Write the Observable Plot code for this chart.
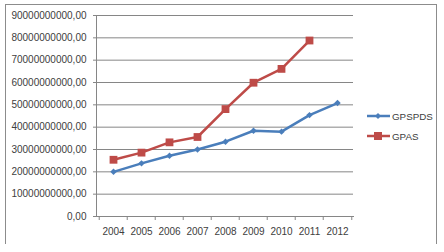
<!DOCTYPE html>
<html>
<head>
<meta charset="utf-8">
<script src="https://cdn.jsdelivr.net/npm/d3@7"></script>
<script src="https://cdn.jsdelivr.net/npm/@observablehq/plot@0.6"></script>
<style>
  body { margin: 0; background: #fff; }
  #wrap { position: relative; width: 444px; height: 252px; font-family: "Liberation Sans", Arial, sans-serif; }
  #border { position: absolute; left: 5px; top: 4px; width: 432px; height: 240px; border: 1px solid #8c8c8c; border-bottom: none; box-sizing: border-box; pointer-events: none; }
  #legend { position: absolute; left: 367px; top: 106px; font-size: 9.8px; color: #404040; }
  .item { display: flex; align-items: center; height: 20px; }
  .item svg { margin-right: 2px; }
</style>
</head>
<body>
<div id="wrap">
  <div id="chart"></div>
  <div id="border"></div>
  <div id="legend"></div>
</div>
<script>
const years = ["2004","2005","2006","2007","2008","2009","2010","2011","2012"];
const gpspds = [2.0e10, 2.38e10, 2.72e10, 3.0e10, 3.35e10, 3.84e10, 3.80e10, 4.54e10, 5.08e10];
const gpasYears = ["2004","2005","2006","2007","2008","2009","2010","2011"];
const gpas = [2.54e10, 2.86e10, 3.32e10, 3.56e10, 4.81e10, 5.99e10, 6.61e10, 7.88e10];
const yTicks = [0, 1e10, 2e10, 3e10, 4e10, 5e10, 6e10, 7e10, 8e10, 9e10];
const seriesNames = ["GPSPDS", "GPAS"];
const colors = ["#4a7ebb", "#be4b48"];

const blue = years.map((y, i) => ({year: y, value: gpspds[i]}));
const red = gpasYears.map((y, i) => ({year: y, value: gpas[i]}));

const W = 444, H = 252, mL = 96, mR = 91;
const half = (W - mL - mR) / years.length / 2;
const gridColor = "#868686";

const chart = Plot.plot({
  width: W, height: H,
  marginLeft: mL, marginRight: mR, marginTop: 15, marginBottom: 36,
  style: {fontFamily: "'Liberation Sans', Arial, sans-serif", fontSize: "10px", color: "#404040", background: "transparent"},
  x: {type: "point", domain: years, padding: 0.5, label: null},
  y: {domain: [0, 9e10], label: null},
  marks: [
    Plot.gridY(yTicks, {stroke: gridColor, strokeOpacity: 1}),
    Plot.frame({anchor: "left", stroke: gridColor}),
    Plot.frame({anchor: "bottom", stroke: gridColor}),
    Plot.axisY(yTicks, {tickSize: 3, tickPadding: 7, stroke: gridColor, tickFormat: d => d.toFixed(0) + ",00", fill: "#404040"}),
    Plot.axisX(years, {tickSize: 4, text: null, dx: -half, stroke: gridColor}),
    Plot.axisX([years[years.length - 1]], {tickSize: 4, text: null, dx: half, stroke: gridColor}),
    Plot.axisX(years, {tickSize: 0, tickPadding: 11, fill: "#404040"}),
    Plot.line(blue, {x: "year", y: "value", stroke: colors[0], strokeWidth: 2.5}),
    Plot.dot(blue, {x: "year", y: "value", symbol: "diamond2", r: 2.9, fill: colors[0], stroke: "none"}),
    Plot.line(red, {x: "year", y: "value", stroke: colors[1], strokeWidth: 2.5}),
    Plot.dot(red, {x: "year", y: "value", symbol: "square", r: 4.4, fill: colors[1], stroke: "none"})
  ]
});
document.getElementById("chart").appendChild(chart);

const legend = document.getElementById("legend");
const markers = [
  '<path d="M11,3 L14,6 L11,9 L8,6 Z" fill="' + colors[0] + '"/>',
  '<rect x="7" y="2" width="8" height="8" fill="' + colors[1] + '"/>'
];
seriesNames.forEach((name, i) => {
  const div = document.createElement("div");
  div.className = "item";
  div.innerHTML = '<svg width="23" height="12"><line x1="0" x2="23" y1="6" y2="6" stroke="' + colors[i] + '" stroke-width="2.5"/>' + markers[i] + '</svg><span>' + name + '</span>';
  legend.appendChild(div);
});
</script>
</body>
</html>
